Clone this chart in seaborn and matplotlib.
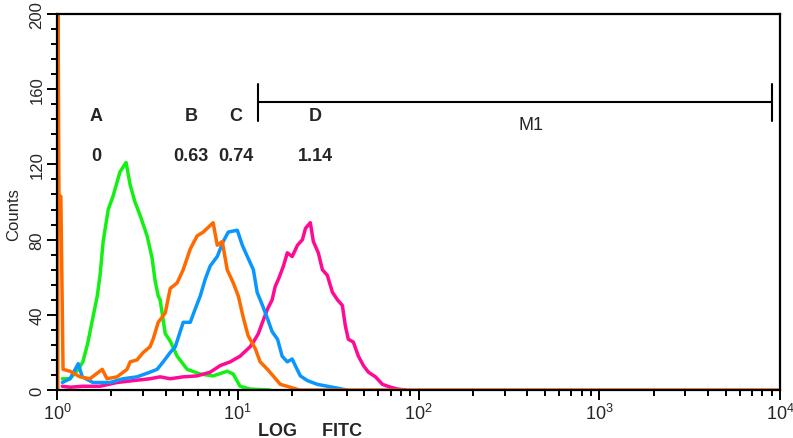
"""
Flow cytometry overlay: LOG FITC histograms for samples A-D.
"""
import numpy as np
import pandas as pd
import matplotlib
matplotlib.use("Agg")
import matplotlib.pyplot as plt
import seaborn as sns
from matplotlib.ticker import LogLocator, MultipleLocator, NullFormatter

# --- histogram data (FITC value, counts) ---
green_x = [1.07, 1.18, 1.31, 1.39, 1.48, 1.56, 1.67, 1.73, 1.80, 1.92, 2.04, 2.23,
           2.41, 2.54, 2.70, 2.88, 3.15, 3.36, 3.49, 3.63, 3.72, 3.97, 4.23, 4.62,
           5.25, 6.20, 7.31, 8.74, 9.44, 10.3, 11.7, 15.1]
green_y = [6, 6, 11, 15, 25, 36, 50, 61, 79, 96, 103, 116,
           121, 109, 100, 93, 82, 70, 58, 50, 48, 30, 26, 18,
           11, 8.5, 7.5, 10, 8.5, 2, 0.5, 0]

orange_x = [1.01, 1.01, 1.025, 1.05, 1.08, 1.18, 1.34, 1.52, 1.78, 1.89, 2.15, 2.44,
            2.54, 2.77, 3.00, 3.27, 3.40, 3.63, 3.97, 4.23, 4.62, 4.99, 5.46, 5.96,
            6.44, 7.31, 7.70, 8.21, 8.74, 9.44, 10.07, 10.7, 11.4, 12.5, 13.3, 14.6,
            15.7, 17.2, 19.5, 22.0, 10000]
orange_y = [0, 230, 103, 103, 11, 10, 7, 6, 11, 6, 7, 11,
            15, 16, 20, 23, 27, 36, 41, 54, 57, 64, 75, 82,
            84, 89, 77, 79, 64, 57, 50, 39, 29, 22, 15, 11,
            7.5, 3, 1.5, 0, 0]

blue_x = [1.07, 1.18, 1.31, 1.38, 1.58, 1.97, 2.32, 2.77, 3.27, 3.58, 3.87, 4.23,
          4.51, 4.80, 4.99, 5.46, 5.81, 6.20, 6.61, 7.04, 7.70, 8.31, 8.86, 9.94,
          10.6, 11.3, 12.2, 12.8, 13.7, 14.6, 15.5, 16.6, 17.6, 18.8, 20.0, 20.8,
          22.2, 24.3, 27.6, 31.3, 35.6, 40.0]
blue_y = [4, 6, 14, 7, 4, 4, 6, 7, 9.5, 11, 15, 20,
          23, 31, 36, 36, 43, 50, 59, 66, 71, 79, 84, 85,
          77, 71, 64, 52, 45, 38, 31, 27, 18, 15, 16.5, 13,
          7.5, 5, 3, 2, 1, 0]

magenta_x = [1.07, 1.18, 1.39, 1.73, 2.15, 2.64, 3.27, 3.72, 4.23, 4.99, 5.96, 7.04,
             8.00, 9.09, 10.3, 11.7, 12.2, 13.0, 13.7, 14.6, 15.5, 16.1, 16.8, 17.9,
             18.8, 20.0, 21.4, 22.8, 23.7, 25.2, 26.2, 27.9, 29.4, 31.3, 33.4, 35.6,
             37.9, 39.4, 40.9, 43.6, 46.5, 49.6, 52.8, 57.8, 63.2, 70.0, 76.5, 85.0]
magenta_y = [2, 1.5, 2, 2, 4, 5, 6, 7, 6, 7, 7.5, 9.5,
             13, 15, 18, 23, 25.5, 30, 36, 43, 48, 55, 59, 66,
             73, 71, 77, 80, 86, 89, 79, 73, 64, 61, 52, 48,
             45, 34, 27, 25.5, 18, 13, 9.5, 7, 3, 1.5, 0.5, 0]

# labels and values above the peaks
sample_names = ["A", "B", "C", "D"]
sample_values = ["0", "0.63", "0.74", "1.14"]
label_x = [1.64, 5.53, 9.8, 26.9]

# M1 marker range
m1_range = [13.0, 9030]
m1_level = 153
m1_label_x = 417

series = {
    "orange": (orange_x, orange_y, "#ff6a00"),
    "green": (green_x, green_y, "#14f014"),
    "magenta": (magenta_x, magenta_y, "#ff0a94"),
    "blue": (blue_x, blue_y, "#0a96ff"),
}

sns.set_style("ticks")
plt.rcParams["font.family"] = ["Liberation Sans", "DejaVu Sans"]
plt.rcParams["mathtext.fontset"] = "custom"
plt.rcParams["mathtext.rm"] = "Liberation Sans"

fig = plt.figure(figsize=(7.93, 4.39), dpi=100)
ax = fig.add_axes([0.0719, 0.1093, 0.9117, 0.8565])

for name in ["green", "magenta", "blue", "orange"]:
    xs, ys, col = series[name]
    df = pd.DataFrame({"fitc": xs, "counts": ys})
    sns.lineplot(data=df, x="fitc", y="counts", ax=ax, color=col,
                 linewidth=2.5, estimator=None, sort=False, legend=False)

ax.set_xscale("log")
ax.set_xlim(1, 10000)
ax.set_ylim(0, 200)

ax.yaxis.set_major_locator(MultipleLocator(40))
ax.yaxis.set_minor_locator(MultipleLocator(8))
ax.xaxis.set_major_locator(LogLocator(base=10))
ax.xaxis.set_minor_locator(LogLocator(base=10, subs=np.arange(2, 10)))
ax.xaxis.set_minor_formatter(NullFormatter())

for side in ["left", "right", "top", "bottom"]:
    ax.spines[side].set_visible(True)
    ax.spines[side].set_linewidth(1.6)
    ax.spines[side].set_color("black")

ax.tick_params(axis="both", which="major", direction="out", length=7, width=1.4,
               color="black")
ax.tick_params(axis="both", which="minor", direction="out", length=4, width=1.4,
               color="black")
ax.tick_params(axis="x", labelsize=13, pad=2)
ax.tick_params(axis="y", labelsize=12, pad=2)
for lab in ax.get_yticklabels():
    lab.set_rotation(90)
    lab.set_va("center")

ax.set_ylabel("Counts", fontsize=12)
ax.yaxis.set_label_coords(-0.05, 0.47)
ax.set_xlabel("LOG     FITC", fontsize=13, fontweight="bold")
ax.xaxis.set_label_coords(0.35, -0.085)

# sample labels
for nm, val, xv in zip(sample_names, sample_values, label_x):
    ax.text(xv, 146, nm, ha="center", va="center", fontsize=13, fontweight="bold")
    ax.text(xv, 125, val, ha="center", va="center", fontsize=13, fontweight="bold")

# M1 gate marker
ax.plot(m1_range, [m1_level, m1_level], color="black", linewidth=1.5)
for xv in m1_range:
    ax.plot([xv, xv], [m1_level - 10, m1_level + 10], color="black", linewidth=1.5)
ax.text(m1_label_x, 141, "M1", ha="center", va="center", fontsize=13)

fig.savefig("out.png", dpi=100)
